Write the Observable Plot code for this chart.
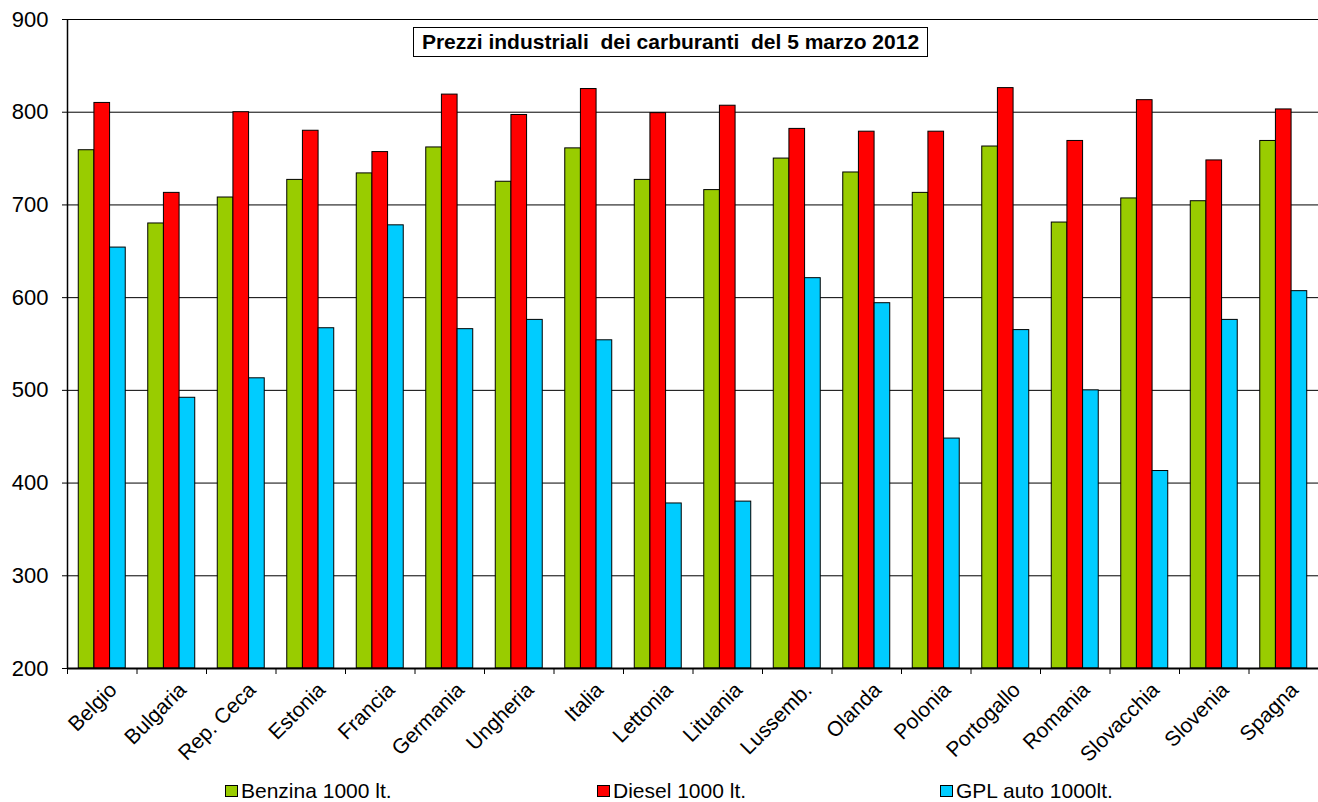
<!DOCTYPE html>
<html>
<head>
<meta charset="utf-8">
<script src="https://cdn.jsdelivr.net/npm/d3@7"></script>
<script src="https://cdn.jsdelivr.net/npm/@observablehq/plot@0.6"></script>
<style>
  html, body { margin: 0; padding: 0; background: #fff; }
  #wrap { position: relative; width: 1318px; height: 802px; font-family: "Liberation Sans", Arial, sans-serif; }
  #title { position: absolute; left: 413px; top: 27px; width: 513px; height: 28px; border: 1.5px solid #000; background: #fff;
           font-weight: bold; font-size: 21px; line-height: 28px; text-align: center; color: #000; white-space: pre; }
  #legend { position: absolute; top: 780px; left: 0; width: 1318px; height: 22px; font-size: 21px; color: #000; }
  .item { position: absolute; display: flex; align-items: center; line-height: 22px; }
  .sw { width: 11px; height: 10px; border: 1.5px solid #000; margin-right: 3px; }
</style>
</head>
<body>
<div id="wrap">
  <div id="chart"></div>
  <div id="title">Prezzi industriali  dei carburanti  del 5 marzo 2012</div>
  <div id="legend"></div>
</div>
<script>
const countries = ["Belgio","Bulgaria","Rep. Ceca","Estonia","Francia","Germania","Ungheria","Italia","Lettonia","Lituania","Lussemb.","Olanda","Polonia","Portogallo","Romania","Slovacchia","Slovenia","Spagna"];
const seriesNames = ["Benzina 1000 lt.","Diesel 1000 lt.","GPL auto 1000lt."];
const benzina = [759,680,708,727,734,762,725,761,727,716,750,735,713,763,681,707,704,769];
const diesel  = [810,713,800,780,757,819,797,825,799,807,782,779,779,826,769,813,748,803];
const gpl     = [654,492,513,567,678,566,576,554,378,380,621,594,448,565,500,413,576,607];
const colors  = ["#99CC00","#FF0000","#00CCFF"];
const yTicks  = [200,300,400,500,600,700,800,900];

const values = [benzina, diesel, gpl];
const rows = [];
values.forEach((arr, s) => arr.forEach((v, i) => rows.push({country: countries[i], series: seriesNames[s], value: v})));

const W = 1318, H = 780, mL = 67, mR = 0, mT = 19, mB = 112;
const step = (W - mL - mR) / countries.length;
const pIn = 0.324, pOut = pIn / 2;
const bw = step * (1 - pIn);
const b = bw / 3;

const barMark = (s) => Plot.barY(rows.filter(d => d.series === seriesNames[s]), {
  x: "country", y1: 200, y2: "value", fill: colors[s], stroke: "#000", strokeWidth: 1,
  insetLeft: s * b, insetRight: (2 - s) * b
});

const chart = Plot.plot({
  width: W, height: H,
  marginLeft: mL, marginRight: mR, marginTop: mT, marginBottom: mB,
  style: {fontFamily: "'Liberation Sans', Arial, sans-serif", background: "#fff"},
  x: {domain: countries, paddingInner: pIn, paddingOuter: pOut, round: false},
  y: {domain: [200, 900]},
  marks: [
    Plot.ruleY(yTicks, {y: d => d, stroke: "#000", strokeWidth: 1}),
    barMark(0), barMark(1), barMark(2),
    Plot.ruleX([0], {x: () => countries[0], dx: -step / 2, y1: 200, y2: 900, stroke: "#000", strokeWidth: 1.5}),
    Plot.ruleY([200], {stroke: "#000", strokeWidth: 2}),
    Plot.axisY({ticks: yTicks, tickSize: 5, tickPadding: 14, fontSize: 22, label: null, stroke: "#000", color: "#000"}),
    Plot.axisX({tickSize: 6, text: null, dx: -step / 2, label: null, stroke: "#000"}),
    Plot.axisX({tickSize: 0, tickRotate: -45, tickPadding: 18, dx: 11, fontSize: 21, label: null, color: "#000"})
  ]
});
document.getElementById("chart").appendChild(chart);

const legend = document.getElementById("legend");
const lx = [225, 597, 940];
seriesNames.forEach((name, i) => {
  const it = document.createElement("div");
  it.className = "item";
  it.style.left = lx[i] + "px";
  it.innerHTML = `<div class="sw" style="background:${colors[i]}"></div><span>${name}</span>`;
  legend.appendChild(it);
});
</script>
</body>
</html>
